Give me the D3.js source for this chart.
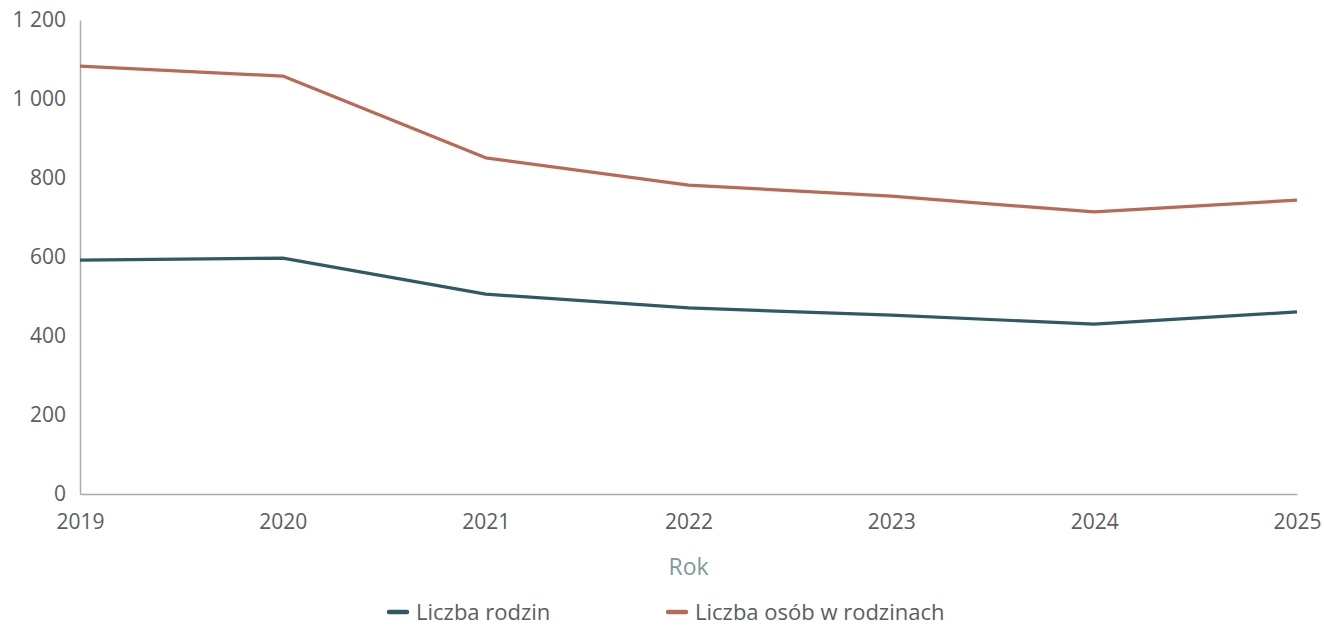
<!DOCTYPE html>
<html><head><meta charset="utf-8">
<script src="https://cdn.jsdelivr.net/npm/d3@7"></script>
<style>
body{margin:0;background:#fff;}
svg{display:block;font-family:"Open Sans",sans-serif;}
</style></head>
<body><svg id="c" width="1324" height="627"></svg>
<script>
const years = ["2019","2020","2021","2022","2023","2024","2025"];
const rodziny = [592, 597, 506, 471, 453, 430, 461];
const osoby = [1083, 1058, 851, 782, 754, 714, 744];
const yTicks = [0, 200, 400, 600, 800, 1000, 1200];
const seriesNames = ["Liczba rodzin", "Liczba osób w rodzinach"];
const seriesColors = ["#2f5a61", "#b86a55"];

const svg = d3.select("#c");
const m = {l:80, r:27, t:20, b:133};
const W = 1324, H = 627;
const x = d3.scalePoint().domain(years).range([m.l, W - m.r]);
const y = d3.scaleLinear().domain([0, 1200]).range([H - m.b, m.t]);
const fmt = v => v >= 1000 ? d3.format(",")(v).replace(",", " ") : String(v);

// axes
const gy = svg.append("g").attr("transform", `translate(${m.l},0)`)
  .call(d3.axisLeft(y).tickValues(yTicks).tickSize(0).tickPadding(14).tickFormat(fmt));
gy.select(".domain").attr("stroke", "#a9adad").attr("stroke-width", 1.5);
gy.selectAll("text").attr("fill", "#5a5e5e").style("font-size", "21px").style("font-family", "Open Sans");

const gx = svg.append("g").attr("transform", `translate(0,${y(0)})`)
  .call(d3.axisBottom(x).tickSize(0).tickPadding(20));
gx.select(".domain").attr("stroke", "#a9adad").attr("stroke-width", 1.5);
gx.selectAll("text").attr("fill", "#5a5e5e").style("font-size", "21px").style("font-family", "Open Sans");

svg.append("text").attr("x", (m.l + W - m.r) / 2).attr("y", 575)
  .attr("text-anchor", "middle").attr("fill", "#7c9c9a")
  .style("font-size", "23px").text("Rok");

// lines
const line = d3.line().x((d, i) => x(years[i])).y(d => y(d));
[rodziny, osoby].forEach((data, k) => {
  svg.append("path").datum(data).attr("d", line)
    .attr("fill", "none").attr("stroke", seriesColors[k])
    .attr("stroke-width", 3.2).attr("stroke-linejoin", "round");
});

// legend
const legX = [388, 667];
seriesNames.forEach((n, k) => {
  const g = svg.append("g").attr("transform", `translate(${legX[k]},612)`);
  g.append("line").attr("x1", 1).attr("x2", 19).attr("y1", 0).attr("y2", 0)
    .attr("stroke", seriesColors[k]).attr("stroke-width", 4.5).attr("stroke-linecap", "round");
  g.append("text").attr("x", 28).attr("y", 0).attr("dy", "0.35em")
    .attr("fill", "#5a5e5e").style("font-size", "22px").text(n);
});
</script></body></html>
